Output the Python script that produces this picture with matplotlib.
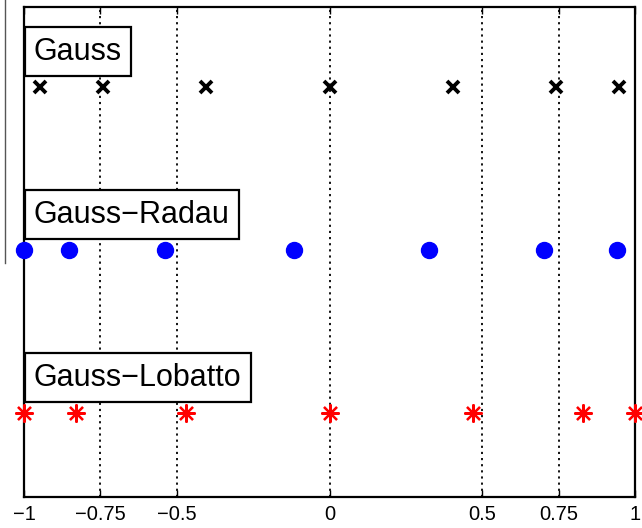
import matplotlib.pyplot as plt
from matplotlib.lines import Line2D

plt.rcParams['font.family'] = ['Liberation Sans', 'DejaVu Sans']

# node positions (7 points each)
gauss = [-0.9491, -0.7415, -0.4058, 0.0, 0.4058, 0.7415, 0.9491]
radau = [-1.0, -0.8538, -0.5384, -0.1173, 0.3267, 0.7031, 0.9413]
lobatto = [-1.0, -0.8302, -0.4688, 0.0, 0.4688, 0.8302, 1.0]
labels = ['Gauss', 'Gauss\u2212Radau', 'Gauss\u2212Lobatto']
rows = [3, 2, 1]
xticks = [-1, -0.75, -0.5, 0, 0.5, 0.75, 1]
xticklabels = ['\u22121', '\u22120.75', '\u22120.5', '0', '0.5', '0.75', '1']

fig = plt.figure(figsize=(6.42, 5.28), dpi=100)
ax = fig.add_axes([24/642, 31/528, 611/642, 490/528])

ax.plot(gauss, [rows[0]]*len(gauss), 'x', color='k', ms=9, mew=2.8, clip_on=False, zorder=3)
ax.plot(radau, [rows[1]]*len(radau), 'o', color='b', ms=11.5, clip_on=False, zorder=3)
ax.plot(lobatto, [rows[2]]*len(lobatto), marker=(8, 2, 0), ls='none', color='r',
        ms=13, mew=1.6, clip_on=False, zorder=3)

for lab, r in zip(labels, rows):
    ax.annotate(lab, xy=(-1, r), xytext=(7, 25.5), textcoords='offset points',
                ha='left', va='center', fontsize=22,
                bbox=dict(boxstyle='square,pad=0.3', fc='white', ec='k', lw=1.6),
                zorder=4)

ax.set_xlim(-1, 1)
ax.set_ylim(0.485, 3.491)
ax.set_xticks(xticks)
ax.set_xticklabels(xticklabels, fontsize=14.5)
ax.set_yticks([])
ax.tick_params(axis='x', direction='in', top=True, length=5, width=1, pad=6)
ax.grid(axis='x', color='k', ls=(0, (1.2, 2.2)), lw=1.3)
for s in ax.spines.values():
    s.set_linewidth(1.6)

# stray line at the left edge of the screenshot
fig.add_artist(Line2D([5/642, 5/642], [1, 1 - 263/528], transform=fig.transFigure,
                      color='#555555', lw=1))

fig.savefig('out.png', dpi=100)
